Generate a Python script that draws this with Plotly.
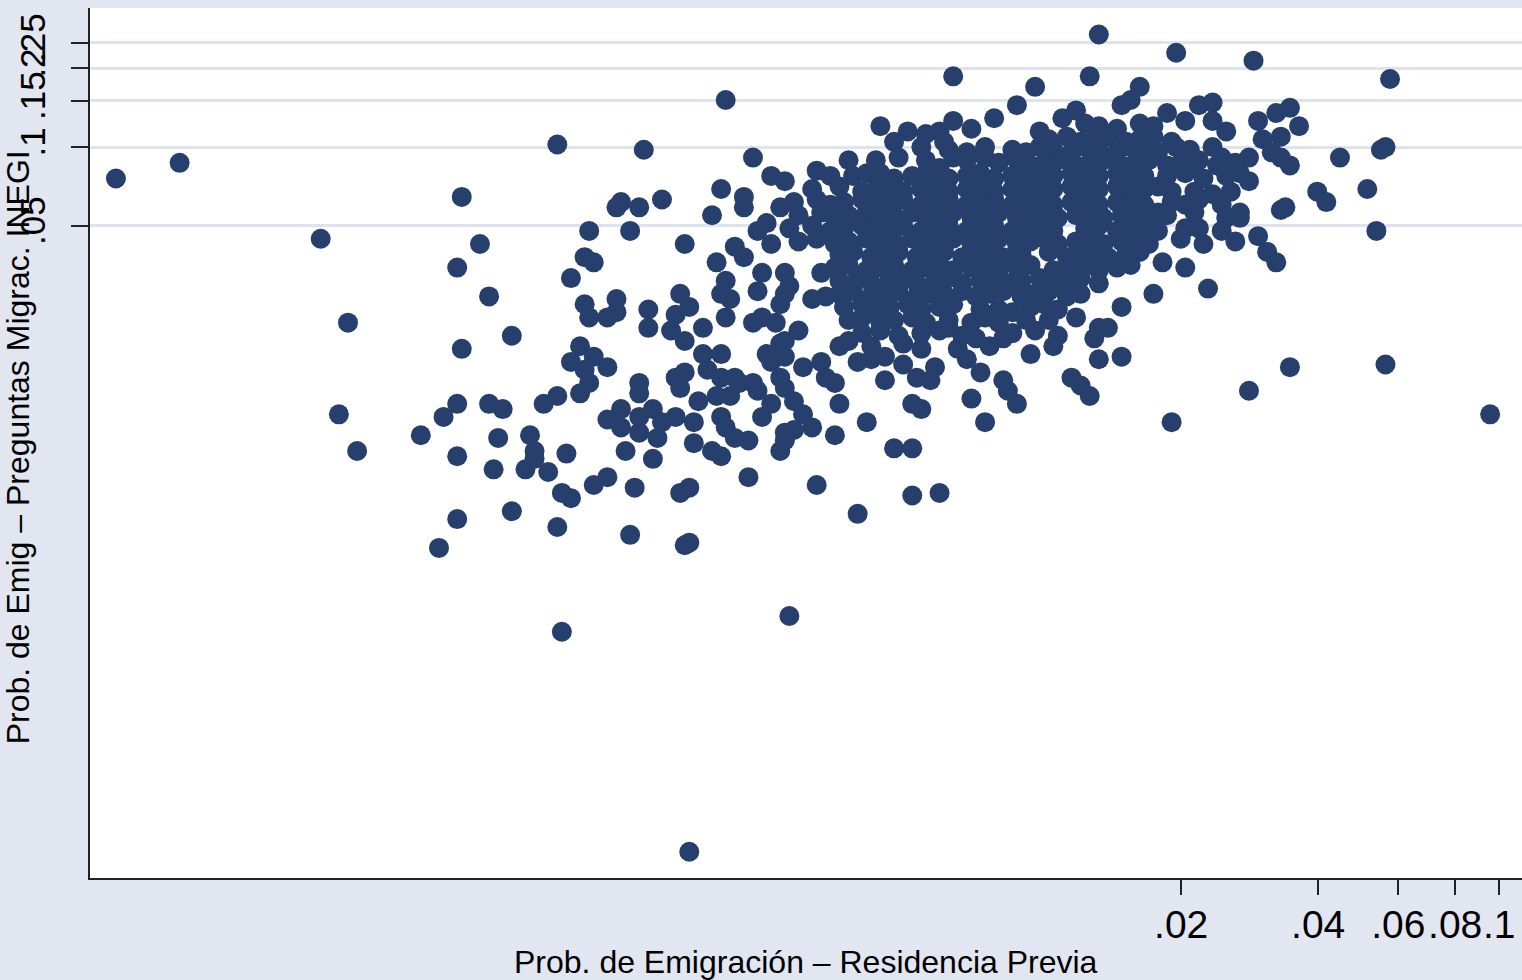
import plotly.graph_objects as go

# Values, in log10 units of each probability
# (both axes of the reference are logarithmic).
# Sparse / outer points
outer_log10_res = [
    -4.04, -3.90, -3.59, -3.53, -3.55, -3.51, -3.37, -3.32, -3.33, -3.29,
    -3.28, -3.24, -3.22, -3.28, -3.29, -3.29, -3.29, -3.22, -3.19, -3.20,
    -3.21, -3.17, -3.17, -3.13, -3.12, -3.14, -3.12, -3.09, -3.10, -3.07,
    -3.07, -3.05, -3.06, -3.04, -3.07, -3.06, -3.04, -3.02, -3.04, -2.99,
    -3.01, -2.96, -3.00, -3.02, -3.00, -2.91, -3.01, -2.99, -3.01, -2.94,
    -2.94, -3.00, -2.96, -2.93, -2.94, -2.89, -2.84, -2.88, -2.87, -2.87,
    -2.80, -2.78, -2.81, -2.82, -2.79, -2.75, -2.75, -2.71, -2.74, -2.71,
    -2.68, -2.67, -2.64, -2.89, -2.89, -2.81, -2.79, -2.80, -2.76, -2.72,
    -2.69, -2.63, -2.62, -2.58, -2.61, -2.60, -2.62, -2.64, -2.59, -2.58,
    -2.56, -2.63, -2.62, -2.63, -2.61, -2.60, -2.58, -2.57, -2.60, -2.96,
    -2.93, -2.93, -2.89, -2.89, -2.86, -2.84, -2.85, -2.81, -2.77, -2.77,
    -2.71, -2.70, -2.68, -2.65, -2.73, -2.71, -2.92, -2.86, -2.99, -2.96,
    -2.90, -2.80, -2.78, -2.65, -2.57, -2.58, -2.71, -2.66, -2.66, -2.73,
    -2.70, -2.64, -2.79, -2.72, -2.68, -2.66, -2.70, -2.71, -2.69, -2.70,
    -2.91, -2.78, -2.79, -2.78, -2.56, -2.41, -2.50, -2.46, -2.39, -2.45,
    -2.33, -2.29, -2.29, -2.23, -2.29, -2.27, -2.16, -2.13, -2.06, -2.08,
    -2.09, -2.14, -2.17, -2.19, -2.15, -2.16, -2.09, -2.03, -2.04, -2.07,
    -2.10, -2.21, -2.22, -2.57, -2.49, -2.57, -2.51, -2.48, -2.54, -2.57,
    -2.57, -2.53, -2.49, -2.48, -2.46, -2.57, -2.55, -2.53, -2.51, -2.55,
    -2.57, -2.45, -2.43, -2.41, -2.38, -2.35, -2.35, -2.31, -2.28, -2.25,
    -2.24, -2.60, -2.58,
    -1.64, -1.76, -1.83, -1.93, -1.88, -1.86, -1.89, -1.98, -1.88, -1.83,
    -1.94, -1.92, -1.90, -1.55, -1.46, -1.72, -1.02, -1.25, -1.69, -1.65,
    -1.61, -1.58, -1.57, -1.53, -1.51, -1.49, -1.48, -1.69, -1.74, -1.70,
    -1.24, -1.25, -1.26, -1.35, -1.29, -1.27, -1.40, -1.38, -1.47, -1.46,
    -1.44, -1.49, -1.48, -1.48, -1.46, -1.88, -1.71, -1.54, -1.90, -2.02,
    -1.79, -2.01, -1.96, -1.93, -1.91, -1.83, -1.81, -1.73, -1.69, -1.66,
    -1.63, -1.63, -1.60, -1.53, -1.52, -1.55, -1.50, -1.57, -1.63, -1.61,
    -1.55, -1.63, -1.59, -1.69, -1.72, -1.73, -1.67, -1.75, -2.20, -2.06,
    -2.36, -2.30, -2.26, -2.23, -2.20, -2.16, -2.11, -2.33, -2.27, -2.22,
    -2.13, -2.07, -2.04, -2.43, -2.37, -2.39, -2.50, -2.47, -2.32, -2.26,
    -2.23, -2.20, -2.17, -2.13,
]
outer_log10_inegi = [
    -1.12, -1.06, -1.35, -1.67, -2.02, -2.16, -2.10, -2.03, -2.53, -1.46,
    -1.19, -1.37, -1.57, -1.77, -1.98, -2.18, -2.42, -1.98, -2.00, -2.11,
    -2.23, -1.72, -2.39, -2.10, -2.16, -2.23, -2.19, -2.24, -1.98, -1.95,
    -0.99, -2.17, -2.32, -2.34, -2.45, -2.85, -1.50, -1.76, -1.82, -1.80,
    -1.85, -1.84, -1.90, -1.94, -1.32, -1.32, -1.42, -1.44, -1.60, -1.58,
    -1.63, -1.65, -1.65, -1.21, -1.23, -1.23, -1.20, -1.01, -1.62, -1.69,
    -1.56, -1.61, -1.64, -1.70, -1.74, -1.69, -1.79, -1.79, -1.85, -1.88,
    -1.88, -1.90, -1.90, -1.90, -1.94, -1.88, -1.86, -1.92, -1.97, -1.95,
    -1.95, -1.93, -2.03, -1.75, -1.79, -1.82, -1.65, -1.67, -1.67, -1.60,
    -1.53, -1.55, -1.48, -1.32, -1.29, -1.37, -1.23, -1.13, -1.11, -2.04,
    -2.00, -2.07, -2.03, -2.09, -2.00, -2.05, -2.11, -2.03, -2.05, -2.13,
    -2.03, -2.07, -2.11, -2.12, -2.16, -2.18, -2.16, -2.19, -2.29, -2.26,
    -2.30, -2.32, -2.30, -2.26, -2.09, -2.16, -1.16, -1.19, -1.23, -1.26,
    -0.82, -1.04, -1.37, -1.44, -1.38, -1.42, -1.51, -1.56, -1.58, -1.65,
    -2.48, -2.51, -2.52, -3.69, -2.79, -2.40, -2.29, -2.10, -2.05, -1.98,
    -2.15, -2.15, -2.33, -2.32, -1.98, -2.00, -1.96, -2.05, -1.98, -1.93,
    -1.89, -1.86, -1.81, -1.77, -1.73, -1.67, -1.73, -1.79, -1.66, -1.63,
    -1.62, -1.69, -1.56, -1.48, -1.48, -1.56, -1.58, -1.57, -1.70, -1.74,
    -1.80, -1.84, -1.82, -1.88, -1.90, -1.92, -1.97, -2.02, -2.07, -2.08,
    -2.12, -1.76, -1.74, -1.82, -1.81, -1.80, -1.89, -1.83, -1.88, -1.89,
    -1.84, -1.98, -1.88,
    -1.54, -1.56, -1.61, -1.65, -1.69, -1.69, -1.73, -1.76, -1.81, -1.80,
    -1.88, -1.91, -1.95, -1.93, -1.84, -2.05, -2.02, -1.83, -1.31, -1.37,
    -1.32, -1.36, -1.27, -1.34, -1.40, -1.44, -1.24, -1.46, -1.44, -1.35,
    -0.74, -1.00, -1.01, -1.04, -1.16, -1.32, -1.17, -1.21, -1.23, -0.85,
    -0.92, -0.87, -0.96, -1.04, -1.07, -0.57, -0.64, -0.67, -0.73, -0.77,
    -0.77, -0.94, -0.89, -0.86, -0.91, -0.84, -0.82, -0.87, -0.90, -0.84,
    -0.83, -0.90, -0.94, -0.90, -0.97, -1.04, -1.02, -1.25, -1.00, -1.04,
    -1.13, -1.18, -1.17, -1.22, -1.17, -1.11, -1.08, -1.25, -0.73, -0.84,
    -0.92, -0.94, -0.95, -0.94, -0.90, -0.93, -0.89, -0.98, -1.00, -0.98,
    -1.00, -1.01, -1.02, -1.05, -1.05, -1.10, -1.09, -1.11, -1.04, -1.05,
    -1.08, -1.04, -1.05, -1.04,
]

# Dense core of the cloud
core_log10_res = [
    -1.88, -1.84, -1.79, -1.76,
    -1.99, -1.95, -1.92, -1.89, -1.86, -1.82, -1.79, -1.76, -1.72,
    -2.21, -2.17, -2.01, -1.98, -1.94, -1.91, -1.88, -1.84, -1.81, -1.78, -1.75, -1.71, -1.68,
    -2.10, -2.06, -2.03, -2.00, -1.97, -1.93, -1.90, -1.87, -1.83, -1.80, -1.77, -1.73, -1.70, -1.66, -1.62, -1.58,
    -2.42, -2.36, -2.33, -2.29, -2.26, -2.21, -2.17, -2.14, -2.11, -2.07, -2.04, -2.01, -1.98, -1.94, -1.91, -1.88,
    -1.84, -1.81, -1.78, -1.69, -1.65, -1.60, -1.57,
    -2.51, -2.45, -2.40, -2.37, -2.34, -2.31, -2.27, -2.24, -2.21, -2.17, -2.14, -2.11, -2.07, -2.04, -2.01, -1.98,
    -1.94, -1.91, -1.88, -1.84, -1.81, -1.78, -1.75, -1.67,
    -2.55, -2.50, -2.47, -2.44, -2.40, -2.37, -2.34, -2.31, -2.27, -2.24, -2.21, -2.17, -2.14, -2.11, -2.07, -2.04,
    -2.01, -1.98, -1.94, -1.91, -1.88, -1.84, -1.81, -1.78, -1.72, -1.66, -1.61,
    -2.54, -2.49, -2.46, -2.43, -2.39, -2.36, -2.33, -2.29, -2.26, -2.23, -2.20, -2.16, -2.13, -2.10, -2.06, -2.03,
    -2.00, -1.97, -1.93, -1.90, -1.87, -1.83, -1.80, -1.77, -1.73, -1.67, -1.60,
    -2.56, -2.51, -2.47, -2.44, -2.40, -2.37, -2.34, -2.31, -2.27, -2.24, -2.21, -2.17, -2.14, -2.11, -2.07, -2.04,
    -2.01, -1.98, -1.91, -1.88, -1.84, -1.81, -1.78, -1.75, -1.66,
    -2.54, -2.50, -2.46, -2.43, -2.39, -2.36, -2.33, -2.29, -2.26, -2.23, -2.20, -2.16, -2.13, -2.10, -2.06, -2.03,
    -2.00, -1.97, -1.93, -1.90, -1.87, -1.83, -1.80, -1.77,
    -2.45, -2.42, -2.38, -2.35, -2.32, -2.28, -2.25, -2.22, -2.18, -2.15, -2.12, -2.09, -2.05, -1.99, -1.95, -1.92,
    -1.89, -1.86, -1.82, -1.79,
    -2.46, -2.43, -2.39, -2.36, -2.33, -2.29, -2.26, -2.23, -2.20, -2.16, -2.13, -2.10, -2.06, -2.03, -1.98, -1.94,
    -1.91, -1.88, -1.84, -1.81,
    -2.45, -2.41, -2.38, -2.34, -2.31, -2.28, -2.24, -2.21, -2.18, -2.14, -2.11, -2.08, -2.05, -2.01, -1.98, -1.95,
    -1.92, -1.88,
    -2.45, -2.42, -2.38, -2.35, -2.32, -2.28, -2.25, -2.18, -2.15, -2.12, -2.09, -2.05, -2.02, -1.99, -1.95, -1.92,
    -2.44, -2.40, -2.37, -2.34, -2.30, -2.27, -2.23, -2.20, -2.14, -2.03, -2.00, -1.97,
    -2.43, -2.40, -2.36, -2.33, -2.29, -2.26, -2.21, -2.13, -2.10, -1.99,
    -2.40, -2.36, -2.32, -2.27, -2.23, -2.18, -2.07, -2.02, -1.97,
    -2.38, -2.31, -2.27, -2.12,
]
core_log10_inegi = [
    -0.92, -0.93, -0.91, -0.92,
    -0.97, -0.96, -0.98, -0.97, -0.96, -0.98, -0.97, -0.96, -0.98,
    -1.01, -1.02, -1.00, -1.01, -1.02, -1.00, -1.01, -1.02, -1.00, -1.01, -1.02, -1.00, -1.01,
    -1.06, -1.05, -1.07, -1.06, -1.05, -1.07, -1.06, -1.05, -1.07, -1.06, -1.05, -1.07, -1.06, -1.05, -1.07, -1.06,
    -1.11, -1.10, -1.12, -1.11, -1.10, -1.12, -1.11, -1.10, -1.12, -1.11, -1.10, -1.12, -1.11, -1.10, -1.12, -1.11,
    -1.10, -1.12, -1.11, -1.10, -1.12, -1.11, -1.10,
    -1.16, -1.15, -1.17, -1.16, -1.15, -1.17, -1.16, -1.15, -1.17, -1.16, -1.15, -1.17, -1.16, -1.15, -1.17, -1.16,
    -1.15, -1.17, -1.16, -1.15, -1.17, -1.16, -1.15, -1.17,
    -1.21, -1.20, -1.22, -1.21, -1.20, -1.22, -1.21, -1.20, -1.22, -1.21, -1.20, -1.22, -1.21, -1.20, -1.22, -1.21,
    -1.20, -1.22, -1.21, -1.20, -1.22, -1.21, -1.20, -1.22, -1.21, -1.20, -1.22,
    -1.26, -1.25, -1.27, -1.26, -1.25, -1.27, -1.26, -1.25, -1.27, -1.26, -1.25, -1.27, -1.26, -1.25, -1.27, -1.26,
    -1.25, -1.27, -1.26, -1.25, -1.27, -1.26, -1.25, -1.27, -1.26, -1.25, -1.27,
    -1.31, -1.30, -1.32, -1.31, -1.30, -1.32, -1.31, -1.30, -1.32, -1.31, -1.30, -1.32, -1.31, -1.30, -1.32, -1.31,
    -1.30, -1.32, -1.31, -1.30, -1.32, -1.31, -1.30, -1.32, -1.31,
    -1.36, -1.35, -1.37, -1.36, -1.35, -1.37, -1.36, -1.35, -1.37, -1.36, -1.35, -1.37, -1.36, -1.35, -1.37, -1.36,
    -1.35, -1.37, -1.36, -1.35, -1.37, -1.36, -1.35, -1.37,
    -1.41, -1.40, -1.42, -1.41, -1.40, -1.42, -1.41, -1.40, -1.42, -1.41, -1.40, -1.42, -1.41, -1.40, -1.42, -1.41,
    -1.40, -1.42, -1.41, -1.40,
    -1.46, -1.45, -1.47, -1.46, -1.45, -1.47, -1.46, -1.45, -1.47, -1.46, -1.45, -1.47, -1.46, -1.45, -1.47, -1.46,
    -1.45, -1.47, -1.46, -1.45,
    -1.51, -1.50, -1.52, -1.51, -1.50, -1.52, -1.51, -1.50, -1.52, -1.51, -1.50, -1.52, -1.51, -1.50, -1.52, -1.51,
    -1.50, -1.52,
    -1.56, -1.55, -1.57, -1.56, -1.55, -1.57, -1.56, -1.55, -1.57, -1.56, -1.55, -1.57, -1.56, -1.55, -1.57, -1.56,
    -1.61, -1.60, -1.62, -1.61, -1.60, -1.62, -1.61, -1.60, -1.62, -1.61, -1.60, -1.62,
    -1.66, -1.65, -1.67, -1.66, -1.65, -1.67, -1.66, -1.65, -1.67, -1.66,
    -1.71, -1.70, -1.72, -1.71, -1.70, -1.72, -1.71, -1.70, -1.72,
    -1.76, -1.75, -1.77, -1.76,
]

x_tick_vals = [0.02, 0.04, 0.06, 0.08, 0.1]
x_tick_text = [".02", ".04", ".06", ".08", ".1"]
y_tick_vals = [0.05, 0.1, 0.15, 0.2, 0.25]
y_tick_text = [".05", ".1", ".15", ".2", ".25"]

x_title = "Prob. de Emigración – Residencia Previa"
y_title = "Prob. de Emig – Preguntas Migrac. INEGI"

assert len(outer_log10_res) == len(outer_log10_inegi)
assert len(core_log10_res) == len(core_log10_inegi)

prob_res = [10 ** v for v in outer_log10_res + core_log10_res]
prob_inegi = [10 ** v for v in outer_log10_inegi + core_log10_inegi]

navy = "#263F6D"
bg = "#E1E6F0"
grid = "#DEE4EE"
font_family = "Liberation Sans, Arial, Helvetica, sans-serif"

fig = go.Figure(
    go.Scatter(
        x=prob_res,
        y=prob_inegi,
        mode="markers",
        marker=dict(size=20, color=navy, line=dict(width=0)),
        hoverinfo="x+y",
    )
)

W, H = 1522, 980
ml, mr, mt, mb = 90, 0, 8, 102

fig.update_layout(
    width=W,
    height=H,
    margin=dict(l=ml, r=mr, t=mt, b=mb, pad=0),
    paper_bgcolor=bg,
    plot_bgcolor="white",
    showlegend=False,
    font=dict(family=font_family, color="black"),
    xaxis=dict(
        type="log",
        range=[-4.097, -0.95],
        tickvals=x_tick_vals,
        ticktext=x_tick_text,
        tickangle=0,
        ticks="outside",
        ticklen=15,
        tickwidth=2,
        tickcolor="#222",
        showline=True,
        linecolor="#222",
        linewidth=2,
        showgrid=False,
        zeroline=False,
        automargin=False,
        tickfont=dict(size=39, family=font_family, color="black"),
        ticklabelstandoff=-4,
    ),
    yaxis=dict(
        type="log",
        range=[-3.79, -0.469],
        tickvals=y_tick_vals,
        ticktext=y_tick_text,
        tickangle=-90,
        ticks="outside",
        ticklen=17,
        tickwidth=2,
        tickcolor="#222",
        showline=True,
        linecolor="#222",
        linewidth=2,
        showgrid=True,
        gridcolor=grid,
        gridwidth=3,
        zeroline=False,
        automargin=False,
        tickfont=dict(size=35, family=font_family, color="black"),
        ticklabelstandoff=12,
    ),
    annotations=[
        dict(
            text=x_title,
            xref="paper", yref="paper",
            x=0.5, y=-(962 - 878) / (H - mt - mb),
            xanchor="center", yanchor="middle",
            showarrow=False,
            font=dict(size=32, family=font_family, color="black"),
        ),
        dict(
            text=y_title,
            xref="paper", yref="paper",
            x=(18 - ml) / (W - ml - mr), y=0.495,
            xanchor="center", yanchor="middle",
            textangle=-90,
            showarrow=False,
            font=dict(size=32, family=font_family, color="black"),
        ),
    ],
)

fig.write_html(
    "out.html",
    config={"displayModeBar": False},
    post_script="document.body.style.margin='0px';document.body.style.overflow='hidden';",
)
